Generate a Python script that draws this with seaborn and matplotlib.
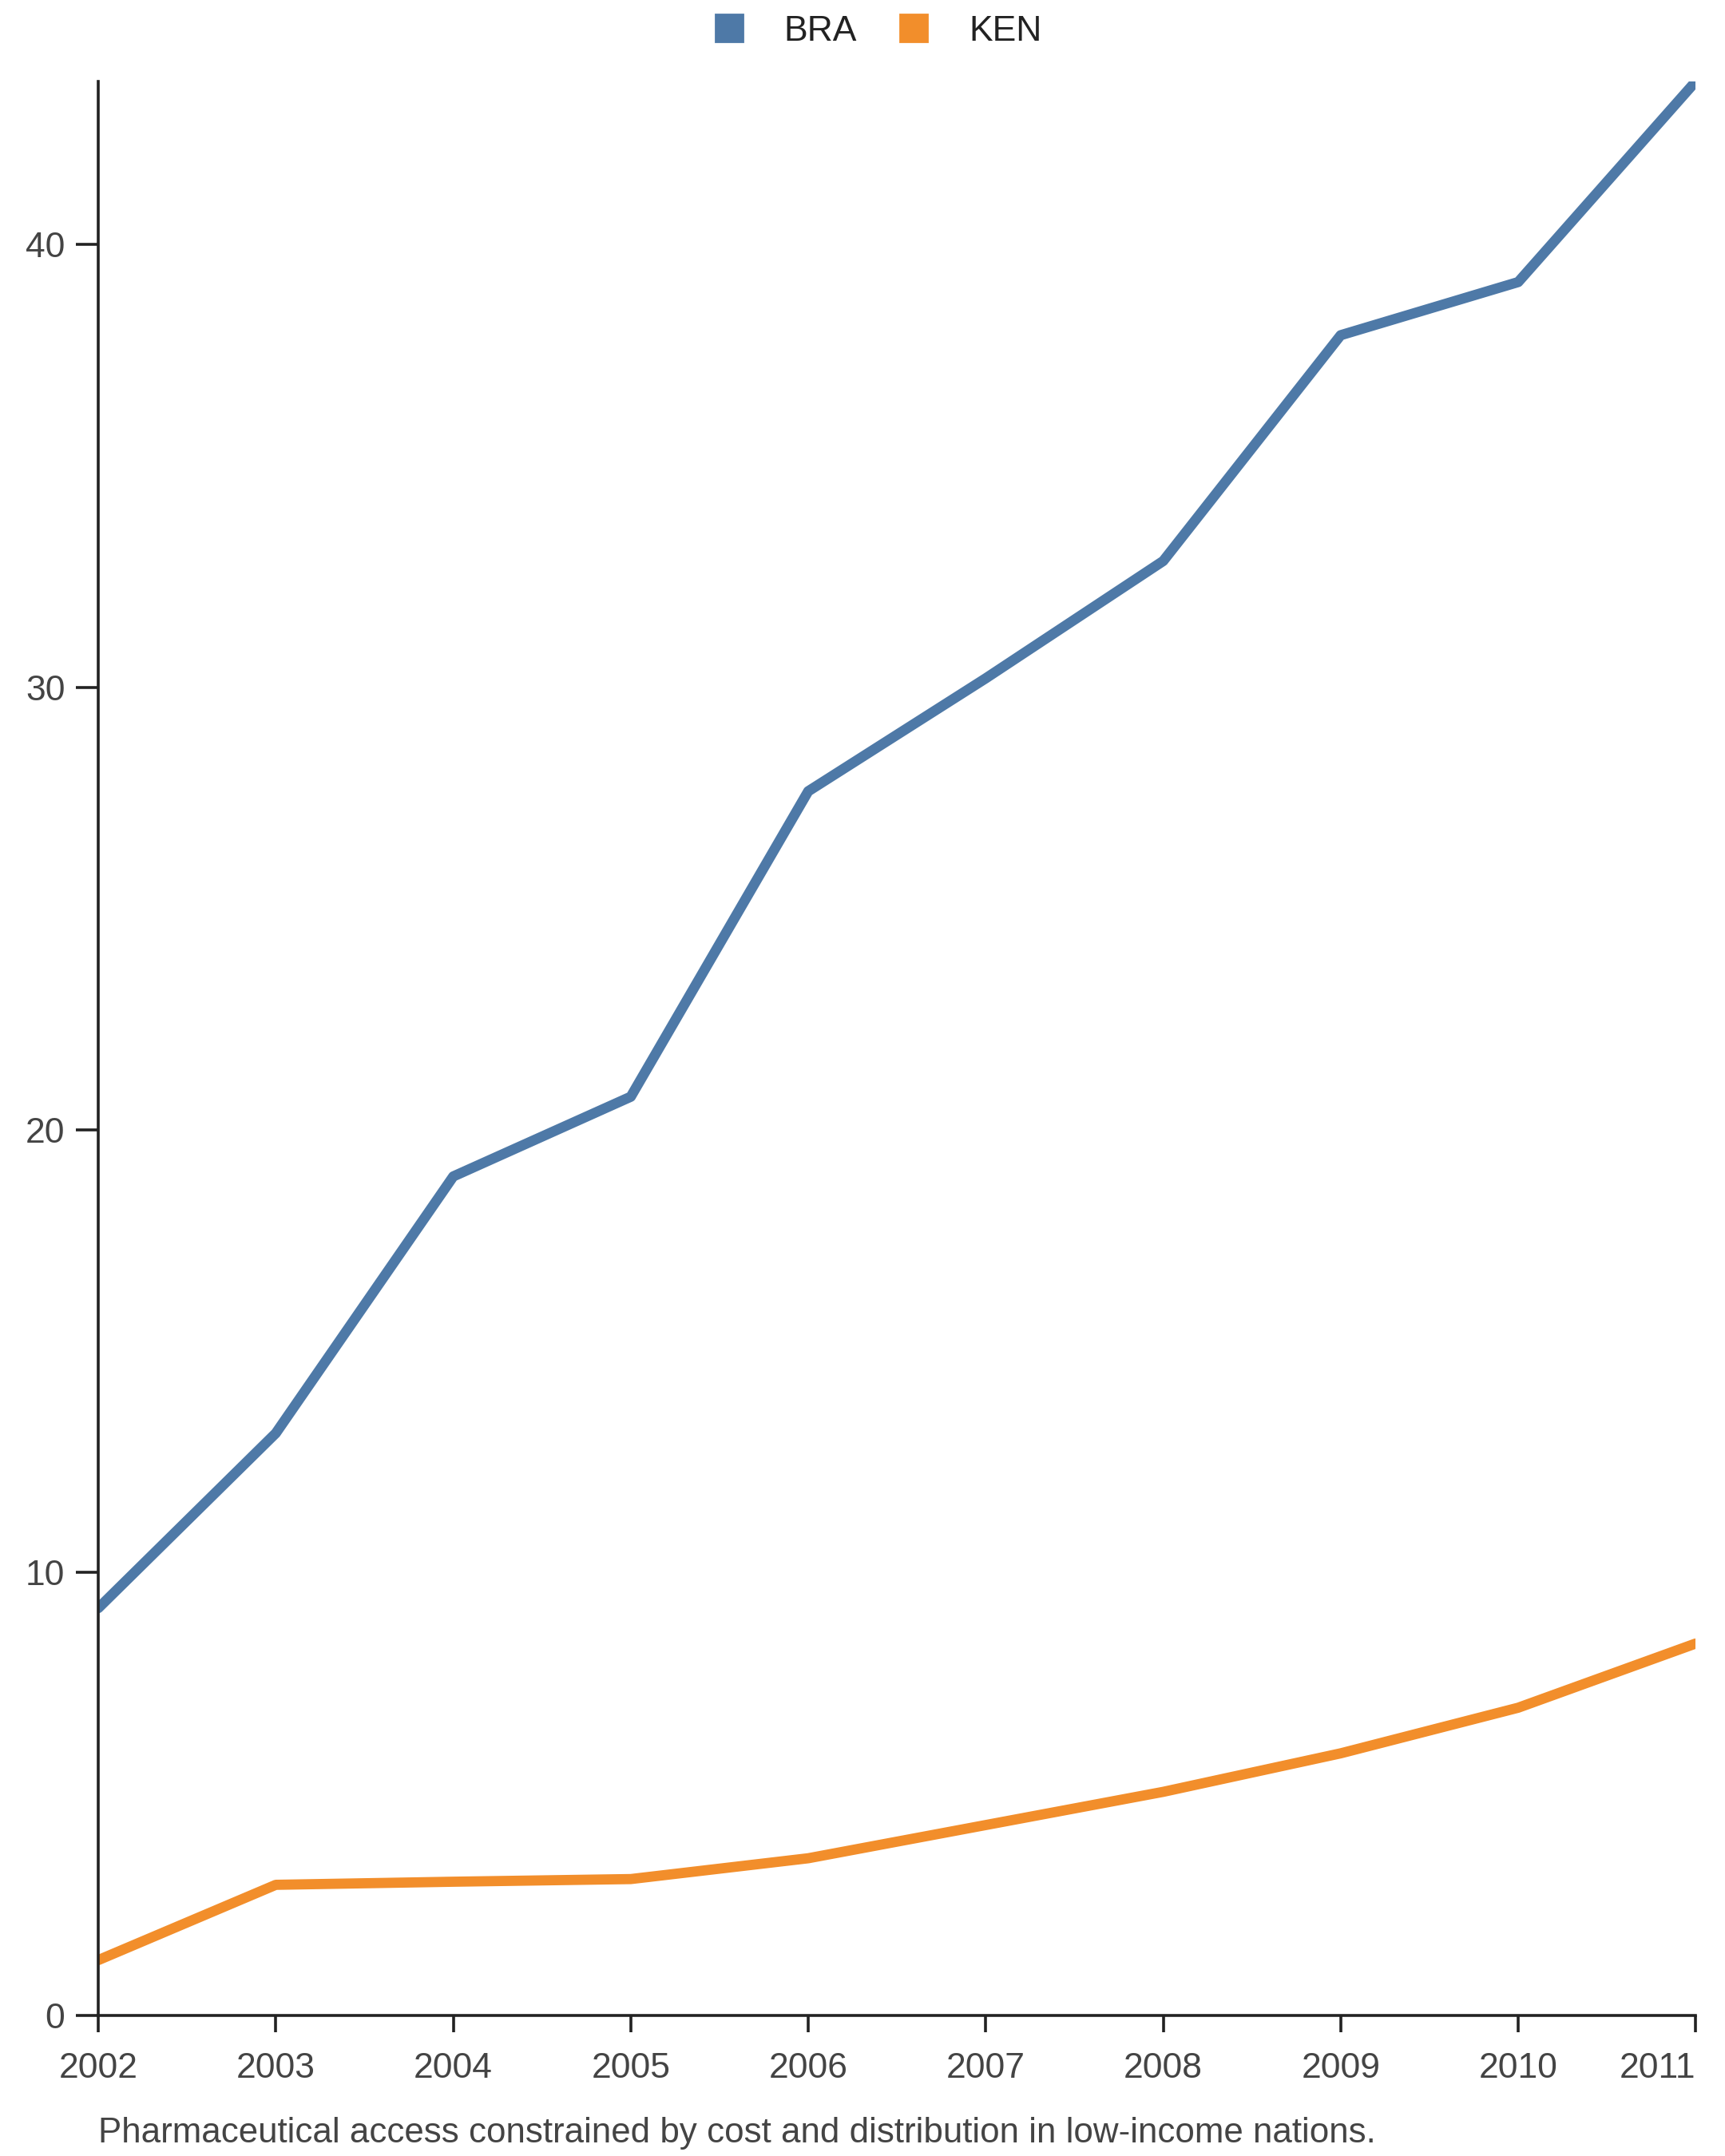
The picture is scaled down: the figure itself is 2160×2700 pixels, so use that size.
import matplotlib.pyplot as plt
import seaborn as sns
import pandas as pd
from matplotlib.lines import Line2D

years = [2002, 2003, 2004, 2005, 2006, 2007, 2008, 2009, 2010, 2011]
bra = [9.2, 13.15, 18.95, 20.75, 27.65, 30.2, 32.85, 37.95, 39.15, 43.68]
ken = [1.25, 2.95, 3.02, 3.08, 3.55, 4.3, 5.05, 5.92, 6.95, 8.4]
countries = ['BRA', 'KEN']
colors = {'BRA': '#4E79A7', 'KEN': '#F28E2B'}
caption = 'Pharmaceutical access constrained by cost and distribution in low-income nations.'

df = pd.DataFrame({
    'year': years * 2,
    'value': bra + ken,
    'country': ['BRA'] * len(years) + ['KEN'] * len(years),
})

sns.set_theme(style='ticks')
plt.rcParams['font.family'] = ['Liberation Sans', 'DejaVu Sans']

fig = plt.figure(figsize=(10.8, 13.5), dpi=200)
ax = fig.add_axes([0.057, 0.0652, 0.926, 0.897])

sns.lineplot(data=df, x='year', y='value', hue='country', palette=colors,
             linewidth=4.6, ax=ax, legend=False)

ax.set_xlim(years[0], years[-1])
ax.set_ylim(0, max(bra))
ax.set_xticks(years)
ax.set_xticklabels([str(y) for y in years])
ax.get_xticklabels()[-1].set_horizontalalignment('right')
ax.set_yticks([0, 10, 20, 30, 40])
ax.set_xlabel('')
ax.set_ylabel('')

for s in ['top', 'right']:
    ax.spines[s].set_visible(False)
for s in ['left', 'bottom']:
    ax.spines[s].set_color('#222222')
    ax.spines[s].set_linewidth(1.3)

ax.tick_params(axis='x', length=7.5, width=1.3, color='#222222', pad=9,
               labelsize=16, labelcolor='#444444')
ax.tick_params(axis='y', length=10, width=1.3, color='#222222', pad=5,
               labelsize=16, labelcolor='#444444')

handles = [Line2D([], [], marker='s', linestyle='', markersize=12,
                  markerfacecolor=colors[c], markeredgecolor=colors[c]) for c in countries]
fig.legend(handles, countries, loc='center', bbox_to_anchor=(0.503, 0.9855), ncol=2,
           frameon=False, fontsize=16, handletextpad=0.55, columnspacing=0.6,
           labelcolor='#222222')

fig.text(0.057, 0.0105, caption, ha='left', va='center', fontsize=15.8, color='#444444')

fig.savefig('out.png', dpi=200)
